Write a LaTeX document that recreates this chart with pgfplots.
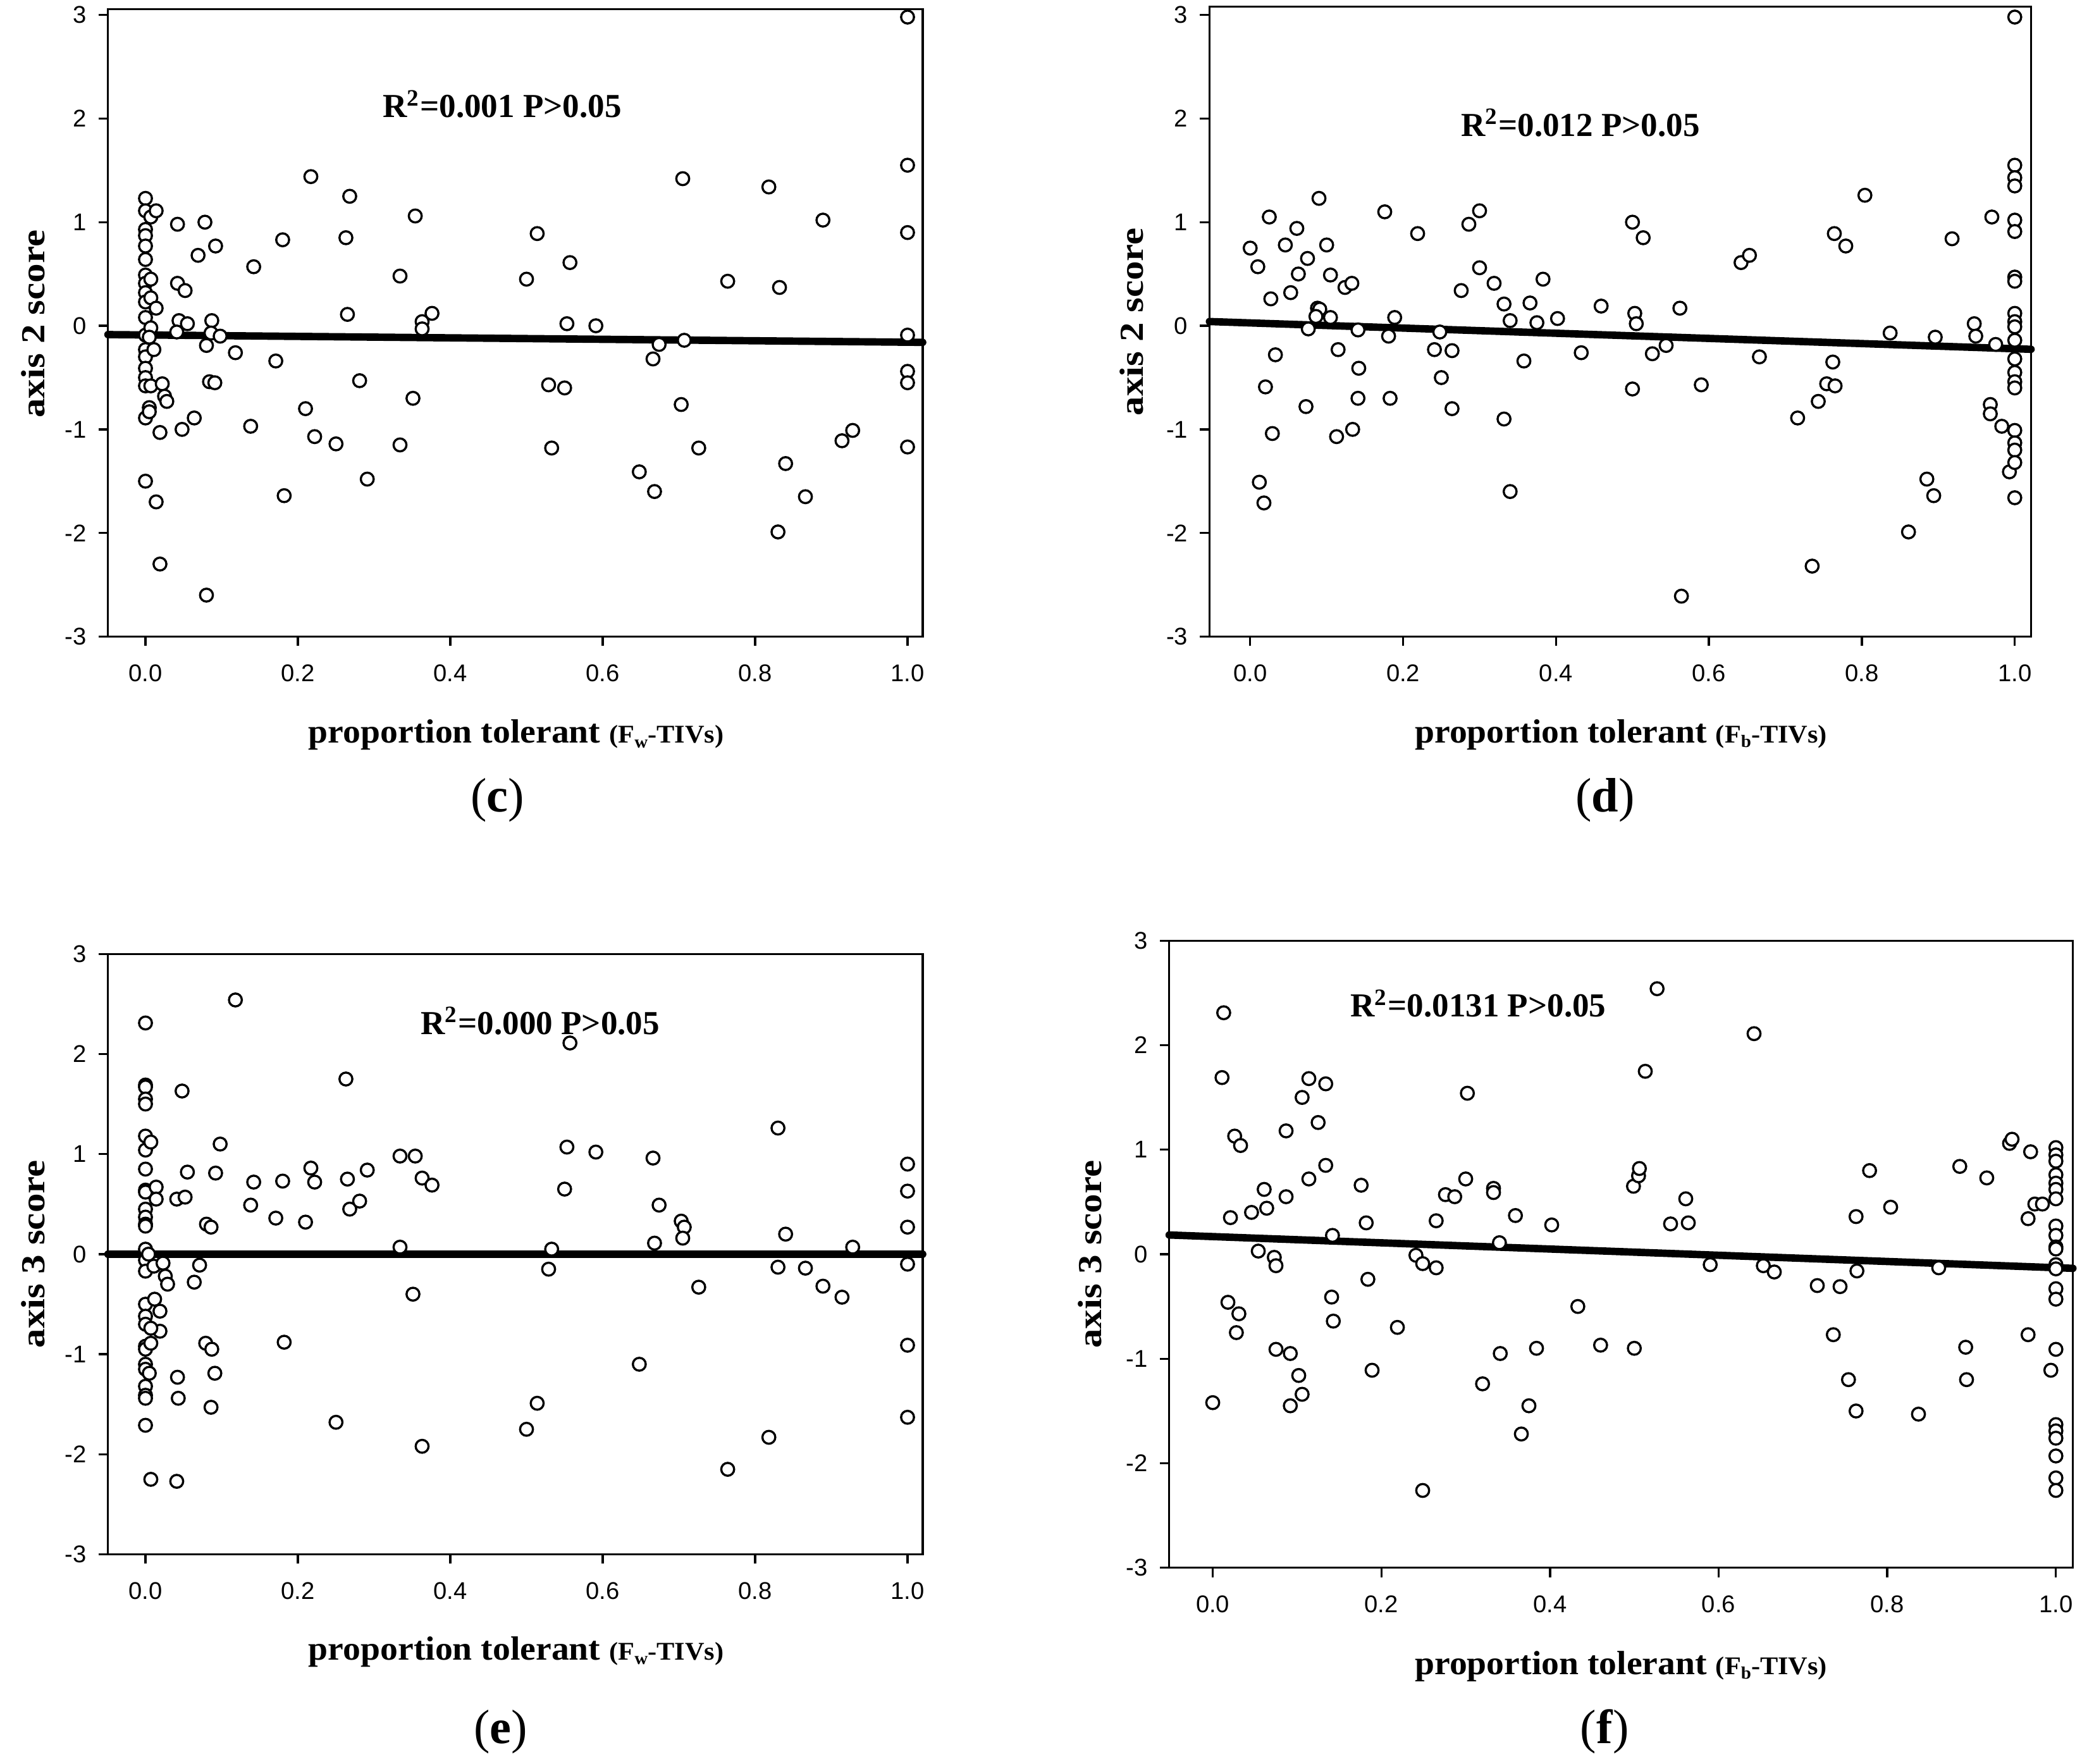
\documentclass[border=0pt]{standalone}
\usepackage{fontspec}
\setmainfont{Liberation Serif}
\newfontfamily\arialfont{Liberation Sans}
\newfontfamily\stretchserif[FakeStretch=1.15]{Liberation Serif}
\newfontfamily\xlabfont[FakeStretch=1.05]{Liberation Serif}
\usepackage{pgfplots}
\usepackage{pgfplotstable}
\pgfplotsset{compat=1.18}

\pgfplotstableread{
x y
0 1.23
0 1.11
0 0.93
0 0.87
0 0.77
0 0.64
0 0.49
0 0.41
0 0.32
0 0.23
0 0.08
0 -0.09
0 -0.23
0 -0.30
0 -0.41
0 -0.50
0 -0.58
0 -0.89
0 -1.50
0.007 1.05
0.014 1.11
0.007 0.45
0.007 0.27
0.014 0.17
0.007 -0.02
0.005 -0.11
0.011 -0.23
0.007 -0.58
0.005 -0.79
0.005 -0.83
0.014 -1.70
0.019 -1.03
0.022 -0.56
0.025 -0.68
0.028 -0.73
0.019 -2.30
0.042 0.98
0.042 0.41
0.052 0.34
0.044 0.05
0.055 0.02
0.041 -0.06
0.048 -1.00
0.078 1.00
0.092 0.77
0.069 0.68
0.087 0.05
0.086 -0.07
0.098 -0.10
0.080 -0.19
0.084 -0.54
0.091 -0.55
0.064 -0.89
0.080 -2.60
0.118 -0.26
0.142 0.57
0.138 -0.97
0.171 -0.34
0.180 0.83
0.182 -1.64
0.217 1.44
0.210 -0.80
0.222 -1.07
0.250 -1.14
0.268 1.25
0.263 0.85
0.265 0.11
0.281 -0.53
0.291 -1.48
0.334 0.48
0.334 -1.15
0.351 -0.70
0.354 1.06
0.363 0.04
0.363 -0.03
0.376 0.12
0.500 0.45
0.514 0.89
0.529 -0.57
0.550 -0.60
0.533 -1.18
0.557 0.61
0.553 0.02
0.591 0.00
0.648 -1.41
0.666 -0.32
0.674 -0.18
0.668 -1.60
0.705 1.42
0.707 -0.14
0.703 -0.76
0.726 -1.18
0.764 0.43
0.818 1.34
0.832 0.37
0.830 -1.99
0.840 -1.33
0.866 -1.65
0.889 1.02
0.914 -1.11
0.928 -1.01
1 2.98
1 1.55
1 0.90
1 -0.09
1 -0.44
1 -0.55
1 -1.17
}\datac

\pgfplotstableread{
x y
0.0 0.75
0.010 0.57
0.025 1.05
0.027 0.26
0.033 -0.28
0.020 -0.59
0.029 -1.04
0.012 -1.51
0.018 -1.71
0.046 0.78
0.061 0.94
0.053 0.32
0.063 0.50
0.075 0.65
0.076 -0.03
0.073 -0.78
0.090 1.23
0.088 0.17
0.091 0.16
0.086 0.09
0.100 0.78
0.105 0.49
0.105 0.08
0.115 -0.23
0.113 -1.07
0.124 0.37
0.133 0.41
0.134 -1.00
0.141 -0.04
0.142 -0.41
0.141 -0.70
0.176 1.10
0.181 -0.10
0.183 -0.70
0.189 0.08
0.219 0.89
0.241 -0.23
0.248 -0.06
0.250 -0.50
0.264 -0.24
0.264 -0.80
0.276 0.34
0.286 0.98
0.300 1.11
0.300 0.56
0.319 0.41
0.332 0.21
0.340 0.05
0.332 -0.90
0.340 -1.60
0.358 -0.34
0.366 0.22
0.375 0.03
0.383 0.45
0.402 0.07
0.433 -0.26
0.459 0.19
0.500 1.00
0.514 0.85
0.503 0.12
0.505 0.02
0.500 -0.61
0.526 -0.27
0.544 -0.19
0.562 0.17
0.564 -2.61
0.590 -0.57
0.642 0.61
0.653 0.68
0.666 -0.30
0.716 -0.89
0.735 -2.32
0.743 -0.73
0.754 -0.56
0.764 0.89
0.762 -0.35
0.765 -0.58
0.779 0.77
0.804 1.26
0.837 -0.07
0.861 -1.99
0.885 -1.48
0.894 -1.64
0.896 -0.11
0.918 0.84
0.947 0.02
0.949 -0.10
0.970 1.05
0.968 -0.76
0.968 -0.85
0.975 -0.18
0.983 -0.97
0.993 -1.41
1 2.98
1 1.55
1 1.43
1 1.35
1 1.02
1 0.91
1 0.47
1 0.43
1 0.12
1 0.04
1 -0.01
1 -0.14
1 -0.32
1 -0.45
1 -0.54
1 -0.60
1 -1.01
1 -1.13
1 -1.20
1 -1.32
1 -1.66
}\datad

\pgfplotstableread{
x y
0 2.31
0 1.69
0 1.67
0 1.55
0 1.50
0 1.18
0 1.04
0 0.85
0 0.64
0 0.62
0 0.45
0 0.37
0 0.30
0 0.28
0 0.05
0 -0.06
0 -0.17
0 -0.50
0 -0.62
0 -0.70
0 -0.92
0 -0.95
0 -1.10
0 -1.15
0 -1.32
0 -1.41
0 -1.44
0 -1.71
0.004 0.00
0.007 1.12
0.014 0.67
0.014 0.55
0.011 -0.12
0.012 -0.45
0.019 -0.57
0.019 -0.77
0.007 -0.74
0.007 -0.89
0.005 -1.19
0.007 -2.25
0.023 -0.09
0.026 -0.22
0.029 -0.30
0.048 1.63
0.041 0.55
0.052 0.57
0.055 0.82
0.042 -1.23
0.043 -1.44
0.041 -2.27
0.071 -0.11
0.064 -0.28
0.080 0.30
0.086 0.27
0.098 1.10
0.092 0.81
0.079 -0.89
0.087 -0.95
0.091 -1.19
0.086 -1.53
0.118 2.54
0.138 0.49
0.142 0.72
0.171 0.36
0.180 0.73
0.182 -0.88
0.210 0.32
0.217 0.86
0.222 0.72
0.250 -1.68
0.263 1.75
0.265 0.75
0.268 0.45
0.281 0.53
0.291 0.84
0.334 0.98
0.334 0.07
0.354 0.98
0.351 -0.40
0.363 0.76
0.376 0.69
0.363 -1.92
0.500 -1.75
0.514 -1.49
0.529 -0.15
0.533 0.05
0.550 0.65
0.553 1.07
0.557 2.11
0.591 1.02
0.648 -1.10
0.666 0.96
0.668 0.11
0.674 0.49
0.703 0.33
0.707 0.27
0.705 0.16
0.726 -0.33
0.764 -2.15
0.818 -1.83
0.830 1.26
0.830 -0.13
0.840 0.20
0.866 -0.14
0.889 -0.32
0.914 -0.43
0.928 0.07
1 0.90
1 0.63
1 0.27
1 -0.10
1 -0.91
1 -1.63
}\datae

\pgfplotstableread{
x y
0.0 -1.42
0.013 2.31
0.011 1.69
0.026 1.13
0.033 1.04
0.021 0.35
0.018 -0.46
0.031 -0.57
0.028 -0.75
0.046 0.40
0.061 0.62
0.064 0.44
0.054 0.03
0.073 -0.03
0.075 -0.11
0.087 1.18
0.087 0.55
0.075 -0.91
0.092 -0.95
0.092 -1.45
0.106 1.50
0.102 -1.16
0.106 -1.34
0.114 1.68
0.114 0.72
0.125 1.26
0.134 1.63
0.134 0.85
0.142 0.18
0.141 -0.41
0.143 -0.64
0.176 0.66
0.182 0.30
0.184 -0.24
0.189 -1.11
0.219 -0.70
0.241 -0.01
0.249 -0.09
0.249 -2.26
0.265 0.32
0.265 -0.13
0.276 0.57
0.287 0.55
0.300 0.72
0.302 1.54
0.320 -1.24
0.333 0.63
0.333 0.59
0.340 0.11
0.341 -0.95
0.359 0.37
0.366 -1.72
0.375 -1.45
0.384 -0.90
0.402 0.28
0.433 -0.50
0.460 -0.87
0.500 -0.90
0.499 0.65
0.505 0.75
0.506 0.82
0.513 1.75
0.527 2.54
0.543 0.29
0.561 0.53
0.564 0.30
0.590 -0.10
0.642 2.11
0.653 -0.11
0.666 -0.17
0.717 -0.30
0.736 -0.77
0.744 -0.31
0.754 -1.20
0.763 0.36
0.764 -0.16
0.763 -1.50
0.779 0.80
0.804 0.45
0.837 -1.53
0.861 -0.13
0.886 0.84
0.893 -0.89
0.894 -1.20
0.918 0.73
0.945 1.06
0.948 1.10
0.967 -0.77
0.967 0.34
0.970 0.98
0.975 0.48
0.984 0.48
0.994 -1.11
1 1.02
1 0.95
1 0.89
1 0.76
1 0.68
1 0.62
1 0.53
1 0.27
1 0.18
1 0.07
1 0.05
1 -0.10
1 -0.14
1 -0.33
1 -0.43
1 -0.91
1 -1.63
1 -1.69
1 -1.76
1 -1.93
1 -2.14
1 -2.26
}\dataf

\pgfplotsset{
  panel/.style={
    scale only axis, clip=false,
    ymin=-3,
    ytick={-3,-2,-1,0,1,2,3}, yticklabels={-3,-2,-1,0,1,2,3},
    xtick={0,0.2,0.4,0.6,0.8,1.0}, xticklabels={0.0,0.2,0.4,0.6,0.8,1.0},
    tick align=outside, tick pos=left,
    major tick length=3.5pt,
    axis line style={line width=0.8pt},
    every tick/.style={line width=0.8pt, black},
    ticklabel style={font=\arialfont\fontsize{9}{10}\selectfont},
    xticklabel style={yshift=-3.4pt},
    yticklabel style={xshift=-1pt},
    xlabel style={font=\xlabfont\bfseries\fontsize{12.5}{14}\selectfont, anchor=center},
    ylabel style={font=\stretchserif\bfseries\fontsize{12.5}{14}\selectfont, anchor=center},
  },
  pts/.style={only marks, mark=*, mark size=2.4pt,
    mark options={line width=0.8pt, fill=white, draw=black}},
  fit/.style={no marks, black, line width=2.75pt, line cap=round},
}
\newcommand{\ann}{\bfseries\fontsize{12.5}{14}\selectfont}
\newcommand{\plab}[1]{\fontsize{18}{20}\selectfont(\textbf{#1})}
\newcommand{\sub}[1]{\raisebox{-0.4ex}{\fontsize{6.5}{7}\selectfont #1}}
\newcommand{\tiv}[1]{{\fontsize{9.5}{10}\selectfont (F\sub{#1}-TIVs)}}

\begin{document}
\begin{tikzpicture}
\path[use as bounding box] (0,0) rectangle (780pt,657pt);

% (c)
\begin{axis}[panel, at={(40.2pt,419.9pt)}, anchor=south west,
  width=303.5pt, height=233.75pt,
  xmin=-0.0493, xmax=1.0199, ymax=3.058,
  xlabel={proportion tolerant \tiv{w}},
  ylabel={axis 2 score},
  xlabel style={at={(axis description cs:0.501,-0.157)}},
  ylabel style={at={(axis description cs:-0.0915,0.498)}},
]
\addplot[fit] coordinates {(-0.0493,-0.085) (1.0199,-0.16)};
\addplot[pts] table[x=x,y=y] {\datac};
\node[font=\ann] at (axis cs:0.468,2.14) {R\textsuperscript{2}=0.001 P>0.05};
\node at (axis description cs:0.478,-0.261) {\plab{c}};
\end{axis}

% (d)
\begin{axis}[panel, at={(450.5pt,419.9pt)}, anchor=south west,
  width=306.05pt, height=234.6pt,
  xmin=-0.0533, xmax=1.0213, ymax=3.08,
  xlabel={proportion tolerant \tiv{b}},
  ylabel={axis 2 score},
  xlabel style={at={(axis description cs:0.501,-0.156)}},
  ylabel style={at={(axis description cs:-0.0949,0.5)}},
]
\addplot[fit] coordinates {(-0.0533,0.041) (1.0213,-0.227)};
\addplot[pts] table[x=x,y=y] {\datad};
\node[font=\ann] at (axis cs:0.432,1.96) {R\textsuperscript{2}=0.012 P>0.05};
\node at (axis description cs:0.4816,-0.260) {\plab{d}};
\end{axis}

% (e)
\begin{axis}[panel, at={(40.2pt,78.05pt)}, anchor=south west,
  width=303.5pt, height=223.65pt,
  xmin=-0.0493, xmax=1.0199, ymax=3,
  xlabel={proportion tolerant \tiv{w}},
  ylabel={axis 3 score},
  xlabel style={at={(axis description cs:0.501,-0.162)}},
  ylabel style={at={(axis description cs:-0.0915,0.5)}},
]
\addplot[fit] coordinates {(-0.0493,0.0) (1.0199,0.0)};
\addplot[pts] table[x=x,y=y] {\datae};
\node[font=\ann] at (axis cs:0.518,2.33) {R\textsuperscript{2}=0.000 P>0.05};
\node at (axis description cs:0.482,-0.2956) {\plab{e}};
\end{axis}

% (f)
\begin{axis}[panel, at={(435.5pt,73.05pt)}, anchor=south west,
  width=336.65pt, height=233.6pt,
  xmin=-0.0517, xmax=1.0202, ymax=3,
  xlabel={proportion tolerant \tiv{b}},
  ylabel={axis 3 score},
  xlabel style={at={(axis description cs:0.500,-0.157)}},
  ylabel style={at={(axis description cs:-0.0875,0.5)}},
]
\addplot[fit] coordinates {(-0.0517,0.184) (1.0202,-0.135)};
\addplot[pts] table[x=x,y=y] {\dataf};
\node[font=\ann] at (axis cs:0.315,2.40) {R\textsuperscript{2}=0.0131 P>0.05};
\node at (axis description cs:0.482,-0.2616) {\plab{f}};
\end{axis}
\end{tikzpicture}
\end{document}
